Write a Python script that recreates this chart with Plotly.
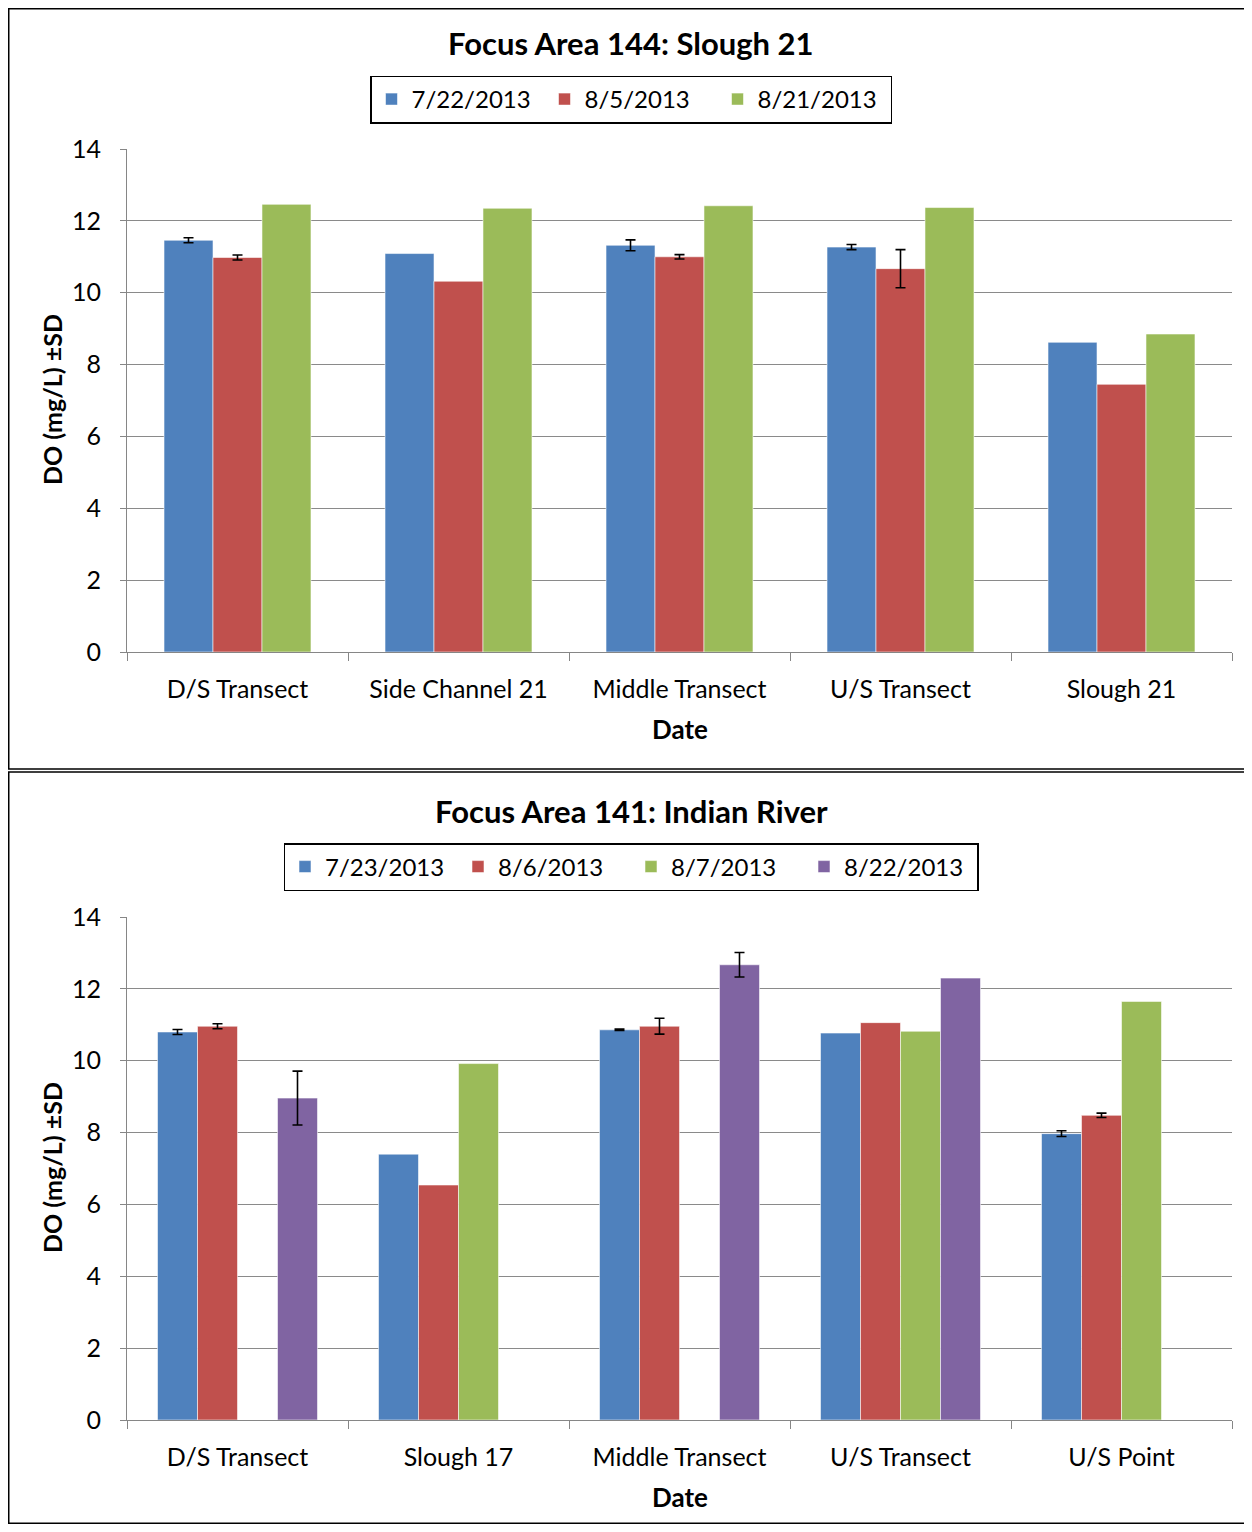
import plotly.graph_objects as go

# ---------------- Data ----------------
cats_top = ["D/S Transect", "Side Channel 21", "Middle Transect", "U/S Transect", "Slough 21"]
dates_top = ["7/22/2013", "8/5/2013", "8/21/2013"]
vals_top = [
    [11.46, 11.09, 11.32, 11.27, 8.62],
    [10.98, 10.32, 11.00, 10.67, 7.45],
    [12.46, 12.35, 12.42, 12.37, 8.85],
]
err_top = [
    [0.07, None, 0.15, 0.07, None],
    [0.07, None, 0.06, 0.53, None],
    [None, None, None, None, None],
]

cats_bot = ["D/S Transect", "Slough 17", "Middle Transect", "U/S Transect", "U/S Point"]
dates_bot = ["7/23/2013", "8/6/2013", "8/7/2013", "8/22/2013"]
vals_bot = [
    [10.80, 7.40, 10.86, 10.77, 7.97],
    [10.96, 6.54, 10.96, 11.06, 8.48],
    [None, 9.92, None, 10.82, 11.65],
    [8.96, None, 12.67, 12.30, None],
]
err_bot = [
    [0.07, None, 0.02, None, 0.08],
    [0.07, None, 0.22, None, 0.06],
    [None, None, None, None, None],
    [0.75, None, 0.34, None, None],
]

colors = ["#4F81BD", "#C0504D", "#9BBB59", "#8064A2"]
yticks = [0, 2, 4, 6, 8, 10, 12, 14]

FONT = "Lato"
PAGE_MARGIN = 8          # browser body margin
W, H = 1252 - 2 * PAGE_MARGIN, 1532 - 2 * PAGE_MARGIN


def px(x):
    return (x - PAGE_MARGIN) / W


def py(y):
    return 1 - (y - PAGE_MARGIN) / H


fig = go.Figure()


def add_series(cats, dates, vals, errs, xa, ya, legend, group_frac):
    n = len(dates)
    w = group_frac / n
    for i, d in enumerate(dates):
        e = errs[i]
        has_err = any(v is not None for v in e)
        # "NaN" makes plotly.js skip the error bar for points without SD
        err_arr = [v if v is not None else "NaN" for v in e]
        fig.add_trace(go.Bar(
            x=cats, y=vals[i], name=d,
            width=w, offset=-group_frac / 2 + i * w,
            marker=dict(color=colors[i], line=dict(color="rgba(255,255,255,0.55)", width=1)),
            error_y=dict(type="data", array=err_arr,
                         visible=has_err, color="black", thickness=1.6, width=5),
            xaxis=xa, yaxis=ya, legend=legend,
        ))


add_series(cats_top, dates_top, vals_top, err_top, "x", "y", "legend", 0.665)
add_series(cats_bot, dates_bot, vals_bot, err_bot, "x2", "y2", "legend2", 0.724)

TICK_SIZE = 25
axis_common_x = dict(
    showline=True, linecolor="#868686", linewidth=1,
    ticks="outside", tickson="boundaries", ticklen=8, tickcolor="#868686",
    tickfont=dict(family=FONT, size=TICK_SIZE, color="black"),
    showgrid=False, ticklabelstandoff=15,
)
axis_common_y = dict(
    range=[0, 14], tickvals=yticks, showline=True, linecolor="#868686", linewidth=1,
    ticks="outside", ticklen=6, tickcolor="#868686",
    tickfont=dict(family=FONT, size=TICK_SIZE, color="black"),
    showgrid=True, gridcolor="#8a8a8a", gridwidth=1, zeroline=False,
    ticklabelstandoff=14,
)

legend_common = dict(orientation="h", xanchor="center", yanchor="middle",
                     bordercolor="black", borderwidth=1.5, bgcolor="white",
                     font=dict(family=FONT, size=24, color="black"), itemwidth=30,
                     entrywidth=128, entrywidthmode="pixels",
                     traceorder="normal")

fig.update_layout(
    width=W, height=H,
    margin=dict(l=0, r=0, t=0, b=0, autoexpand=False),
    paper_bgcolor="white", plot_bgcolor="white",
    barmode="overlay",
    font=dict(family=FONT, color="black"),
    xaxis=dict(domain=[px(127), px(1232)], anchor="y", **axis_common_x),
    yaxis=dict(domain=[py(652), py(149)], anchor="x", **axis_common_y),
    xaxis2=dict(domain=[px(127), px(1232)], anchor="y2", **axis_common_x),
    yaxis2=dict(domain=[py(1420), py(917)], anchor="x2", **axis_common_y),
    legend=dict(x=px(631), y=py(99.5), **legend_common),
    legend2=dict(x=px(631), y=py(867), **legend_common),
    showlegend=True,
)

annotations = [
    dict(text="<b>Focus Area 144: Slough 21</b>", x=px(631), y=py(43), size=31),
    dict(text="<b>Focus Area 141: Indian River</b>", x=px(631), y=py(811), size=31),
    dict(text="<b>Date</b>", x=px(680), y=py(729), size=26),
    dict(text="<b>Date</b>", x=px(680), y=py(1497), size=26),
]
for a in annotations:
    fig.add_annotation(xref="paper", yref="paper", xanchor="center", yanchor="middle",
                       showarrow=False, font=dict(family=FONT, size=a["size"], color="black"),
                       text=a["text"], x=a["x"], y=a["y"])
for yc in (400, 1168):
    fig.add_annotation(xref="paper", yref="paper", x=px(52), y=py(yc), xanchor="center",
                       yanchor="middle", showarrow=False, textangle=-90,
                       text="<b>DO (mg/L) ±SD</b>", font=dict(family=FONT, size=25, color="black"))

# Panel borders
fig.add_shape(type="rect", xref="paper", yref="paper", x0=px(8.75), x1=px(1251.25),
              y0=py(769), y1=py(8.75), line=dict(color="black", width=1.5))
fig.add_shape(type="rect", xref="paper", yref="paper", x0=px(8.75), x1=px(1251.25),
              y0=py(1523.25), y1=py(772), line=dict(color="black", width=1.5))

fig.write_html("out.html")
